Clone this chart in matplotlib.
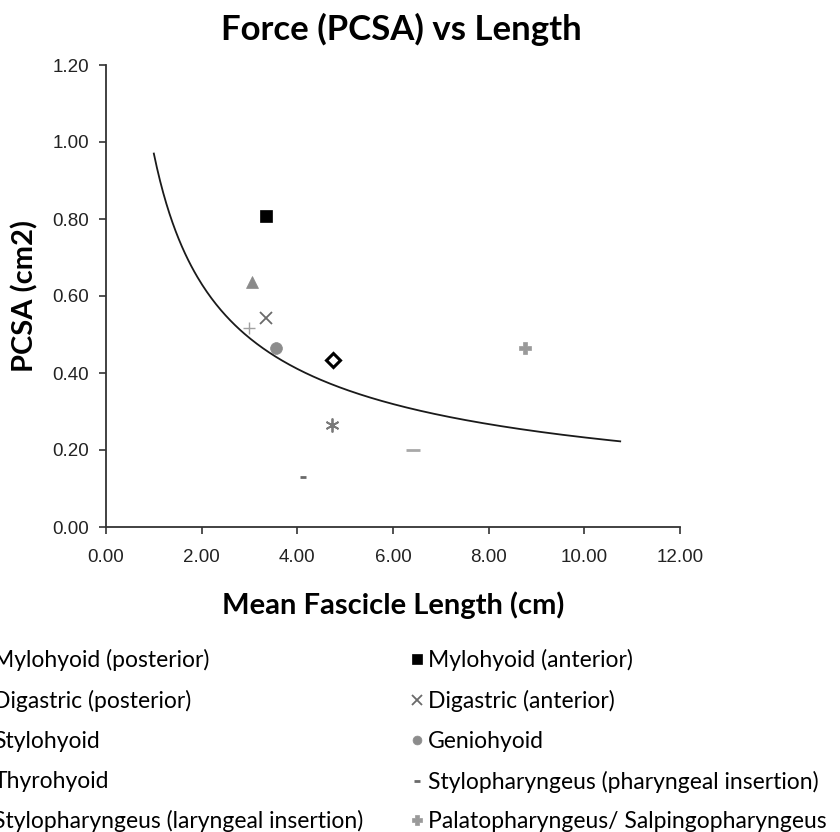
import numpy as np
import matplotlib
matplotlib.use("Agg")
import matplotlib.pyplot as plt
from matplotlib.lines import Line2D

# ---- data ----
series_names = [
    "Mylohyoid (posterior)", "Mylohyoid (anterior)",
    "Digastric (posterior)", "Digastric (anterior)",
    "Stylohyoid", "Geniohyoid",
    "Thyrohyoid", "Stylopharyngeus (pharyngeal insertion)",
    "Stylopharyngeus (laryngeal insertion)", "Palatopharyngeus/ Salpingopharyngeus",
]
fascicle_length = [4.74, 3.34, 3.05, 3.35, 4.72, 3.55, 2.99, 4.11, 6.42, 8.75]
pcsa = [0.434, 0.809, 0.637, 0.544, 0.265, 0.464, 0.516, 0.131, 0.200, 0.466]

# power trendline y = a * x^b
trend_a = 0.97
trend_b = -0.62
trend_x_range = (1.0, 10.75)

x_ticks = [0, 2, 4, 6, 8, 10, 12]
y_ticks = [0.0, 0.2, 0.4, 0.6, 0.8, 1.0, 1.2]

# ---- styles ----
styles = [
    dict(marker="D", ms=7, mfc="white", mec="black", mew=2.2),
    dict(marker="s", ms=9, mfc="black", mec="black", mew=0.5),
    dict(marker="^", ms=9, mfc="#8a8a8a", mec="#8a8a8a", mew=0.5),
    dict(marker="x", ms=9, mfc="none", mec="#6a6a6a", mew=1.3),
    dict(marker=(6, 2, 0), ms=10, mfc="none", mec="#7a7a7a", mew=1.3),
    dict(marker="o", ms=8.5, mfc="#8c8c8c", mec="#8c8c8c", mew=0.5),
    dict(marker="+", ms=8, mfc="none", mec="#a0a0a0", mew=1.0),
    dict(marker="_", ms=5, mfc="none", mec="#6a6a6a", mew=2.0),
    dict(marker="_", ms=10, mfc="none", mec="#a8a8a8", mew=2.0),
    dict(marker="P", ms=9, mfc="#9a9a9a", mec="#9a9a9a", mew=0.5),
]

fig = plt.figure(figsize=(8.4, 8.32), dpi=100)
ax = fig.add_axes([106/840, 1-527/832, (680-106)/840, (527-65)/832])

handles = []
for name, x, y, st in zip(series_names, fascicle_length, pcsa, styles):
    h, = ax.plot([x], [y], linestyle="none", label=name, **st)
    handles.append(h)

xs = np.linspace(trend_x_range[0], trend_x_range[1], 300)
ax.plot(xs, trend_a * xs ** trend_b, color="#1a1a1a", lw=1.3)

ax.set_xlim(0, 12)
ax.set_ylim(0, 1.2)
ax.set_xticks(x_ticks)
ax.set_yticks(y_ticks)
ax.set_xticklabels([f"{v:.2f}" for v in x_ticks], fontfamily="Liberation Sans", fontsize=13.5,
                   color="#222222")
ax.set_yticklabels([f"{v:.2f}" for v in y_ticks], fontfamily="Liberation Sans", fontsize=13.5,
                   color="#222222")
ax.tick_params(axis="x", direction="out", length=5, width=1.2, color="#333333", pad=11)
ax.tick_params(axis="y", direction="out", length=5, width=1.2, color="#333333", pad=7)
for s in ["top", "right"]:
    ax.spines[s].set_visible(False)
for s in ["left", "bottom"]:
    ax.spines[s].set_linewidth(1.3)
    ax.spines[s].set_color("#333333")

ax.set_title("Force (PCSA) vs Length", fontfamily="Lato", fontweight="bold",
             fontsize=25, pad=18, x=(401-106)/574)
ax.set_xlabel("Mean Fascicle Length (cm)", fontfamily="Lato", fontweight="bold",
              fontsize=21, labelpad=18)
ax.set_ylabel("PCSA (cm2)", fontfamily="Lato", fontweight="bold",
              fontsize=21, labelpad=10)

# legends
def legend_handles(idx, scale=0.75):
    out = []
    for i in idx:
        st = dict(styles[i])
        st["ms"] = st["ms"] * scale
        out.append(Line2D([], [], linestyle="none", **st))
    return out

left_idx = [0, 2, 4, 6, 8]
right_idx = [1, 3, 5, 7, 9]
leg_kw = dict(frameon=False, prop={"family": "Lato", "size": 16.5},
              handlelength=0.6, handletextpad=0.2, labelspacing=0.82,
              borderpad=0, borderaxespad=0)
leg1 = fig.legend(legend_handles(left_idx), [series_names[i] for i in left_idx],
                  loc="upper left", bbox_to_anchor=(-25/840, 1-649/832), **leg_kw)
leg2 = fig.legend(legend_handles(right_idx), [series_names[i] for i in right_idx],
                  loc="upper left", bbox_to_anchor=(410/840, 1-649/832), **leg_kw)

fig.savefig("out.png", dpi=100)
